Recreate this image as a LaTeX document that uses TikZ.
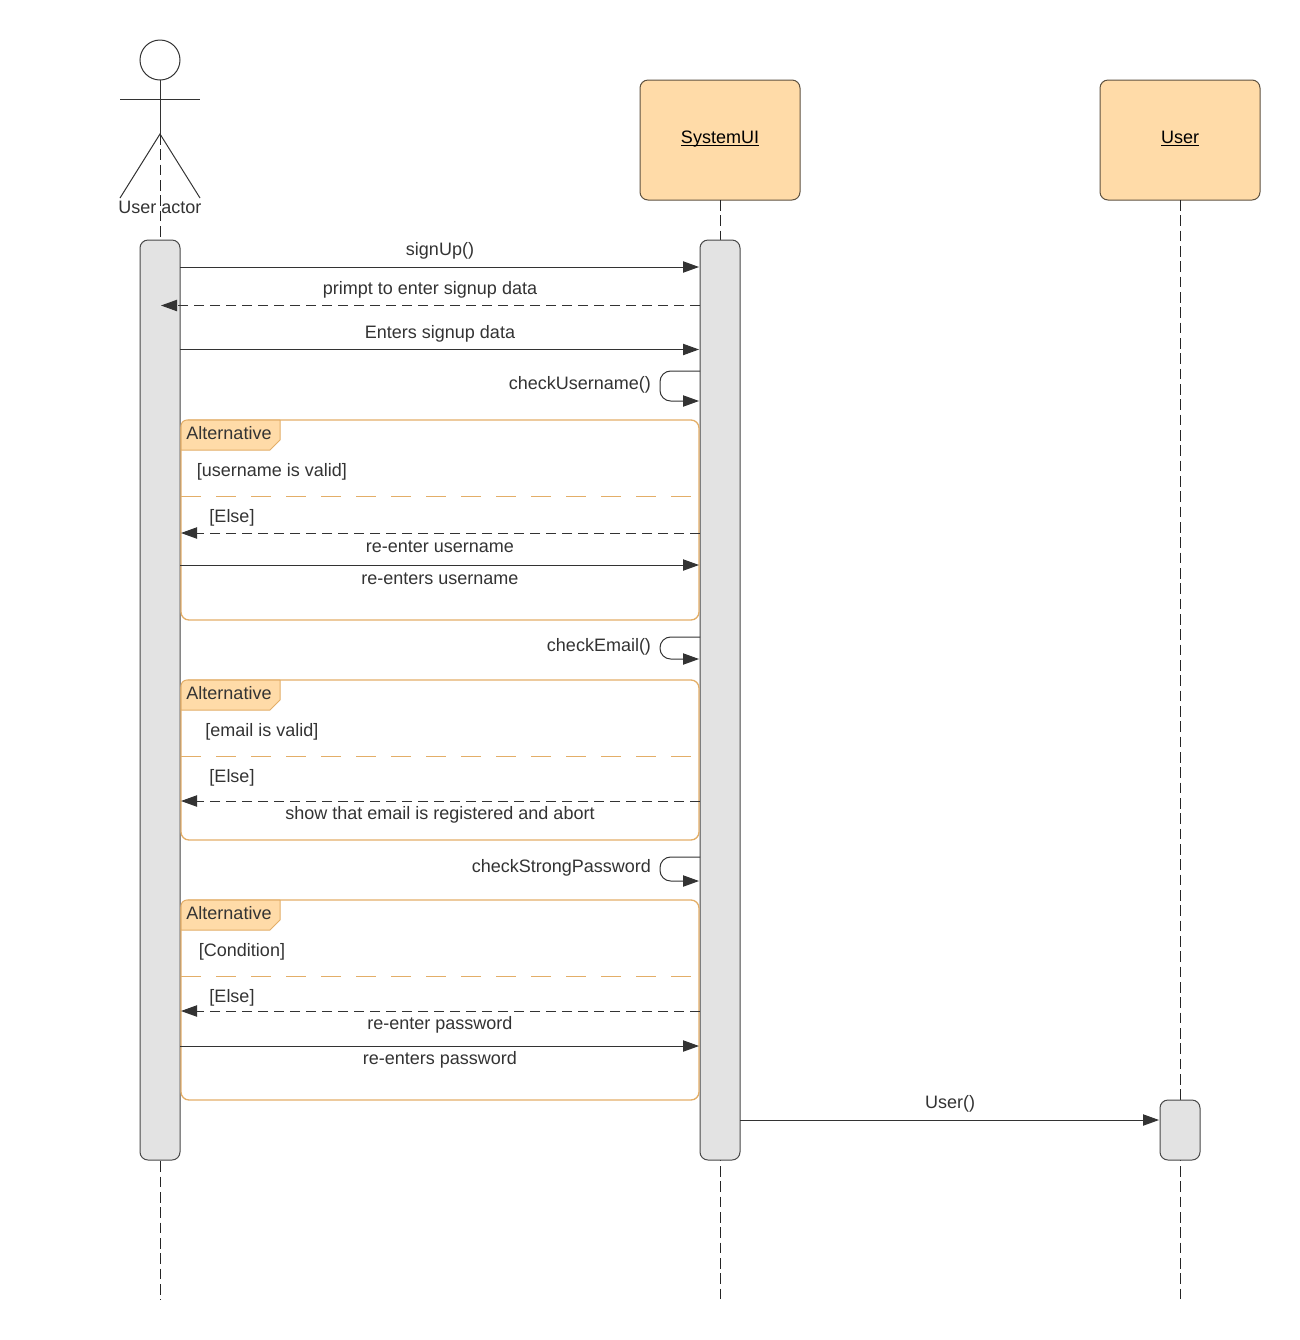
\documentclass[tikz,border=0pt]{standalone}
\usepackage{fontspec}
\setmainfont{Liberation Sans}
\usetikzlibrary{arrows.meta}
\definecolor{boxorange}{HTML}{FFDBA8}
\definecolor{boxline}{HTML}{5E5240}
\definecolor{framelin}{HTML}{E3AE68}
\definecolor{barfill}{HTML}{E3E3E3}
\definecolor{barline}{HTML}{484848}
\definecolor{inkdark}{HTML}{333333}
\newcommand{\objname}[1]{\raisebox{-2.3pt}{\textcolor{black}{\underline{\smash{#1}}}}}
\tikzset{
    every node/.style={inner sep=0pt, outer sep=0pt, text=inkdark, font=\fontsize{13.5}{15}\selectfont},
    objbox/.style={draw=boxline, fill=boxorange, rounded corners=6pt, minimum width=120pt, minimum height=90pt, text height=0pt, text depth=0pt},
    activebar/.style={draw=barline, fill=barfill, rounded corners=6pt, minimum width=30pt},
    altframe/.style={draw=framelin, line width=1pt, rounded corners=6pt, minimum width=388.5pt},
    alttag/.style={draw=framelin, fill=boxorange, line join=round},
    lifeline/.style={draw=black!85, dash pattern=on 8pt off 3.5pt},
    msg/.style={draw=inkdark, -{Triangle[length=12pt,width=8.5pt]}, shorten >=0.75pt},
    msgback/.style={msg, dash pattern=on 7.5pt off 4.5pt},
    selfmsg/.style={msg, rounded corners=8pt},
    divider/.style={draw=framelin, dash pattern=on 15pt off 11.25pt},
}
\begin{document}
\begin{tikzpicture}[x=0.75pt, y=-0.75pt, line width=0.75pt]
    \useasboundingbox (0,0) rectangle (1300,1340);
    % lifelines
    \coordinate (actorfoot) at (160,1300);
    \coordinate (sysfoot) at (720,1300);
    \coordinate (userfoot) at (1180,1300);
    \coordinate (actorhip) at (160,134);
    \draw [lifeline] (actorhip) -- (actorfoot);
    \node [objbox] (sysbox) at (720,140) {\objname{SystemUI}};
    \node [objbox] (userbox) at (1180,140) {\objname{User}};
    \draw [lifeline] (sysbox) -- (sysfoot);
    \draw [lifeline] (userbox) -- (userfoot);
    % stick figure
    \node [draw=inkdark, circle, minimum size=30pt] (head) at (160,60) {};
    \coordinate (armleft) at (120,99);
    \coordinate (armright) at (200,99);
    \coordinate (legleft) at (120,198);
    \coordinate (legright) at (200,198);
    \draw [inkdark] (head) -- (actorhip);
    \draw [inkdark] (armleft) -- (armright);
    \draw [inkdark] (legleft) -- (actorhip) -- (legright);
    \node (actorlbl) at (160,207) {User actor};
    % activation bars
    \node [activebar, minimum height=690pt] (baractor) at (160,700) {};
    \node [activebar, minimum height=690pt] (barsys) at (720,700) {};
    \node [activebar, minimum height=45pt] (baruser) at (1180,1130) {};
    % alt frames
    \node [altframe, minimum height=150pt] (frameuser) at (440,520) {};
    \node [altframe, minimum height=120pt] (framemail) at (440,760) {};
    \node [altframe, minimum height=150pt] (framepass) at (440,1000) {};
    \foreach \ty/\tname in {420/taguser, 680/tagmail, 900/tagpass} {
        \draw [alttag] (181,\ty+30) -- (181,\ty+6) arc (180:270:6) -- (280,\ty) -- (280,\ty+20) -- (270,\ty+30) -- cycle;
        \node (\tname) at (229,\ty+13) {Alternative};
    }
    \draw [divider] (frameuser.west |- 0,496) -- ++(510,0);
    \draw [divider] (framemail.west |- 0,756) -- ++(510,0);
    \draw [divider] (framepass.west |- 0,976) -- ++(510,0);
    \node (conduser) at (272,472) {[username is valid]};
    \node (condmail) at (262,732) {[email is valid]};
    \node (condpass) at (242,952) {[Condition]};
    \node (elseuser) at (232,518) {[Else]};
    \node (elsemail) at (232,778) {[Else]};
    \node (elsepass) at (232,998) {[Else]};
    % messages
    \draw [msg] (baractor.east |- 0,267) -- (barsys.west |- 0,267);
    \node (lblsignup) at (440,251) {signUp()};
    \draw [msgback] (barsys.west |- 0,305.5) -- (baractor.center |- 0,305.5);
    \node (lblprompt) at (430,290) {primpt to enter signup data};
    \draw [msg] (baractor.east |- 0,349.5) -- (barsys.west |- 0,349.5);
    \node (lblenters) at (440,334) {Enters signup data};
    \draw [selfmsg] (barsys.west |- 0,371) -- (660,371) -- (660,401) -- (barsys.west |- 0,401);
    \node [anchor=east] (lblchkname) at (651,385) {checkUsername()};
    \draw [msgback] (barsys.west |- 0,533) -- (baractor.east |- 0,533);
    \node (lblreenter) at (440,547) {re-enter username};
    \draw [msg] (baractor.east |- 0,565) -- (barsys.west |- 0,565);
    \node (lblreenters) at (440,579) {re-enters username};
    \draw [selfmsg] (barsys.west |- 0,637) -- (660,637) -- (660,659) -- (barsys.west |- 0,659);
    \node [anchor=east] (lblchkmail) at (651,647) {checkEmail()};
    \draw [msgback] (barsys.west |- 0,801) -- (baractor.east |- 0,801);
    \node (lblabort) at (440,815) {show that email is registered and abort};
    \draw [selfmsg] (barsys.west |- 0,857) -- (660,857) -- (660,881) -- (barsys.west |- 0,881);
    \node [anchor=east] (lblchkpass) at (651,868) {checkStrongPassword};
    \draw [msgback] (barsys.west |- 0,1011) -- (baractor.east |- 0,1011);
    \node (lblreenterp) at (440,1025) {re-enter password};
    \draw [msg] (baractor.east |- 0,1046) -- (barsys.west |- 0,1046);
    \node (lblreentersp) at (440,1060) {re-enters password};
    \draw [msg] (barsys.east |- 0,1120) -- (baruser.west |- 0,1120);
    \node (lbluser) at (950,1104) {User()};
\end{tikzpicture}
\end{document}
